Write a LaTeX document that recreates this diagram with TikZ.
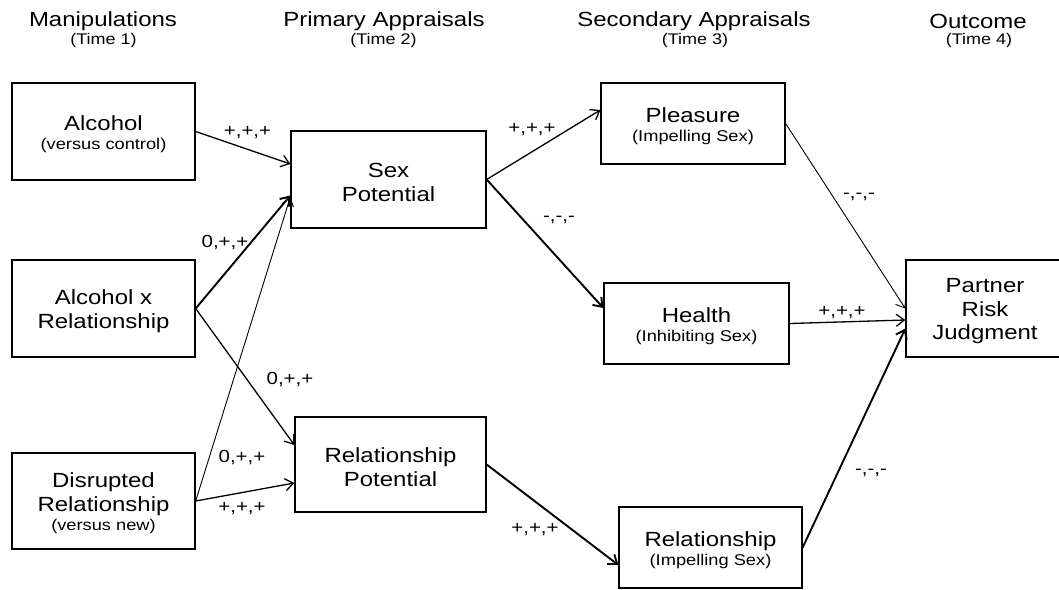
\documentclass[tikz,border=0pt]{standalone}
\usepackage{fontspec}
\setmainfont{Liberation Sans}[FakeStretch=1.17]
\usetikzlibrary{arrows.meta,calc}
\newcommand\dgmain{\fontsize{20.5}{23.5}\selectfont}
\newcommand\dgsub{\fontsize{15.6}{18}\selectfont}
\newcommand\dglab{\fontsize{17.5}{20}\selectfont}
\newcommand\dghead{\fontsize{20.5}{22}\selectfont}
\newcommand\dgtime{\fontsize{15.4}{18}\selectfont}
\newcommand\dgst{\rule{0pt}{20pt}}
\tikzset{
  box/.style={draw, line width=1.3pt, inner sep=0pt, align=center, font=\dgmain},
  lab/.style={inner sep=0pt, font=\dglab},
  head/.style={inner sep=0pt, font=\dghead},
  timel/.style={inner sep=0pt, font=\dgtime},
  arr/.style={-{Straight Barb[length=8pt,width=12pt]}},
  thinl/.style={arr, line width=0.9pt},
  medl/.style={arr, line width=1.3pt},
  thickl/.style={arr, line width=1.9pt}
}
\begin{document}
\begin{tikzpicture}[x=1pt,y=-1pt]
\useasboundingbox (0,0) rectangle (1059,589);
\clip (0,0) rectangle (1059,589);
% headers
\node[head]  (h1) at (103,21) {Manipulations};
\node[timel] (t1) at (103.5,41) {(Time 1)};
\node[head]  (h2) at (384,21) {Primary Appraisals};
\node[timel] (t2) at (383.5,41) {(Time 2)};
\node[head]  (h3) at (694,21) {Secondary Appraisals};
\node[timel] (t3) at (695,41) {(Time 3)};
\node[head]  (h4) at (978,21) {Outcome};
\node[timel] (t4) at (979,41) {(Time 4)};
% boxes
\node[box, minimum width=183pt, minimum height=97pt] (alc) at (103.5,131.5) {\dgst Alcohol\\[-4pt]{\dgsub (versus control)}};
\node[box, minimum width=195pt, minimum height=97pt] (sp) at (388.5,179.5) {\dgst Sex\\Potential};
\node[box, minimum width=183pt, minimum height=97pt] (axr) at (103.5,308.5) {\dgst Alcohol x\\Relationship};
\node[box, minimum width=183pt, minimum height=96pt] (dis) at (103.5,501) {\dgst Disrupted\\Relationship\\[-4pt]{\dgsub (versus new)}};
\node[box, minimum width=191pt, minimum height=95pt] (rp) at (390.5,464.5) {\dgst Relationship\\Potential};
\node[box, minimum width=184pt, minimum height=81pt] (pl) at (693,123.5) {\dgst Pleasure\\[-4pt]{\dgsub (Impelling Sex)}};
\node[box, minimum width=185pt, minimum height=81pt] (he) at (696.5,323.5) {\dgst Health\\[-4pt]{\dgsub (Inhibiting Sex)}};
\node[box, minimum width=183pt, minimum height=81pt] (rel) at (710.5,547.5) {\dgst Relationship\\[-4pt]{\dgsub (Impelling Sex)}};
\node[box, minimum width=158pt, minimum height=97pt] (prj) at (985,308.5) {\dgst Partner\\Risk\\Judgment};
% connectors
\draw[medl]   (alc.east) -- ($(sp.west)+(0,-15.5)$);
\draw[thickl] (axr.east) -- ($(sp.west)+(0,16)$);
\draw[medl]   (axr.east) -- ($(rp.west)+(0,-19.5)$);
\draw[thinl]  (dis.east) -- ($(sp.west)+(0,17.5)$);
\draw[medl]   (dis.east) -- ($(rp.west)+(0,18.5)$);
\draw[medl]   (sp.east) -- ($(pl.west)+(0,-13.5)$);
\draw[thickl] (sp.east) -- ($(he.west)+(0,-15.5)$);
\draw[thinl]  (pl.east) -- (prj.west);
\draw[medl]   (he.east) -- ($(prj.west)+(0,11.5)$);
\draw[thickl] (rel.east) -- ($(prj.west)+(0,20)$);
\draw[thickl] (rp.east) -- ($(rel.west)+(0,17.5)$);
% labels
\node[lab] (l1) at (247.5,133) {+,+,+};
\node[lab] (l2) at (225,243) {0,+,+};
\node[lab] (l3) at (290,380) {0,+,+};
\node[lab] (l4) at (242,458) {0,+,+};
\node[lab] (l5) at (242,509) {+,+,+};
\node[lab] (l6) at (532,130) {+,+,+};
\node[lab] (l7) at (559,220) {-,-,-};
\node[lab] (l8) at (859,197) {-,-,-};
\node[lab] (l9) at (842,313) {+,+,+};
\node[lab] (l10) at (871,473) {-,-,-};
\node[lab] (l11) at (535,530) {+,+,+};
\end{tikzpicture}
\end{document}
